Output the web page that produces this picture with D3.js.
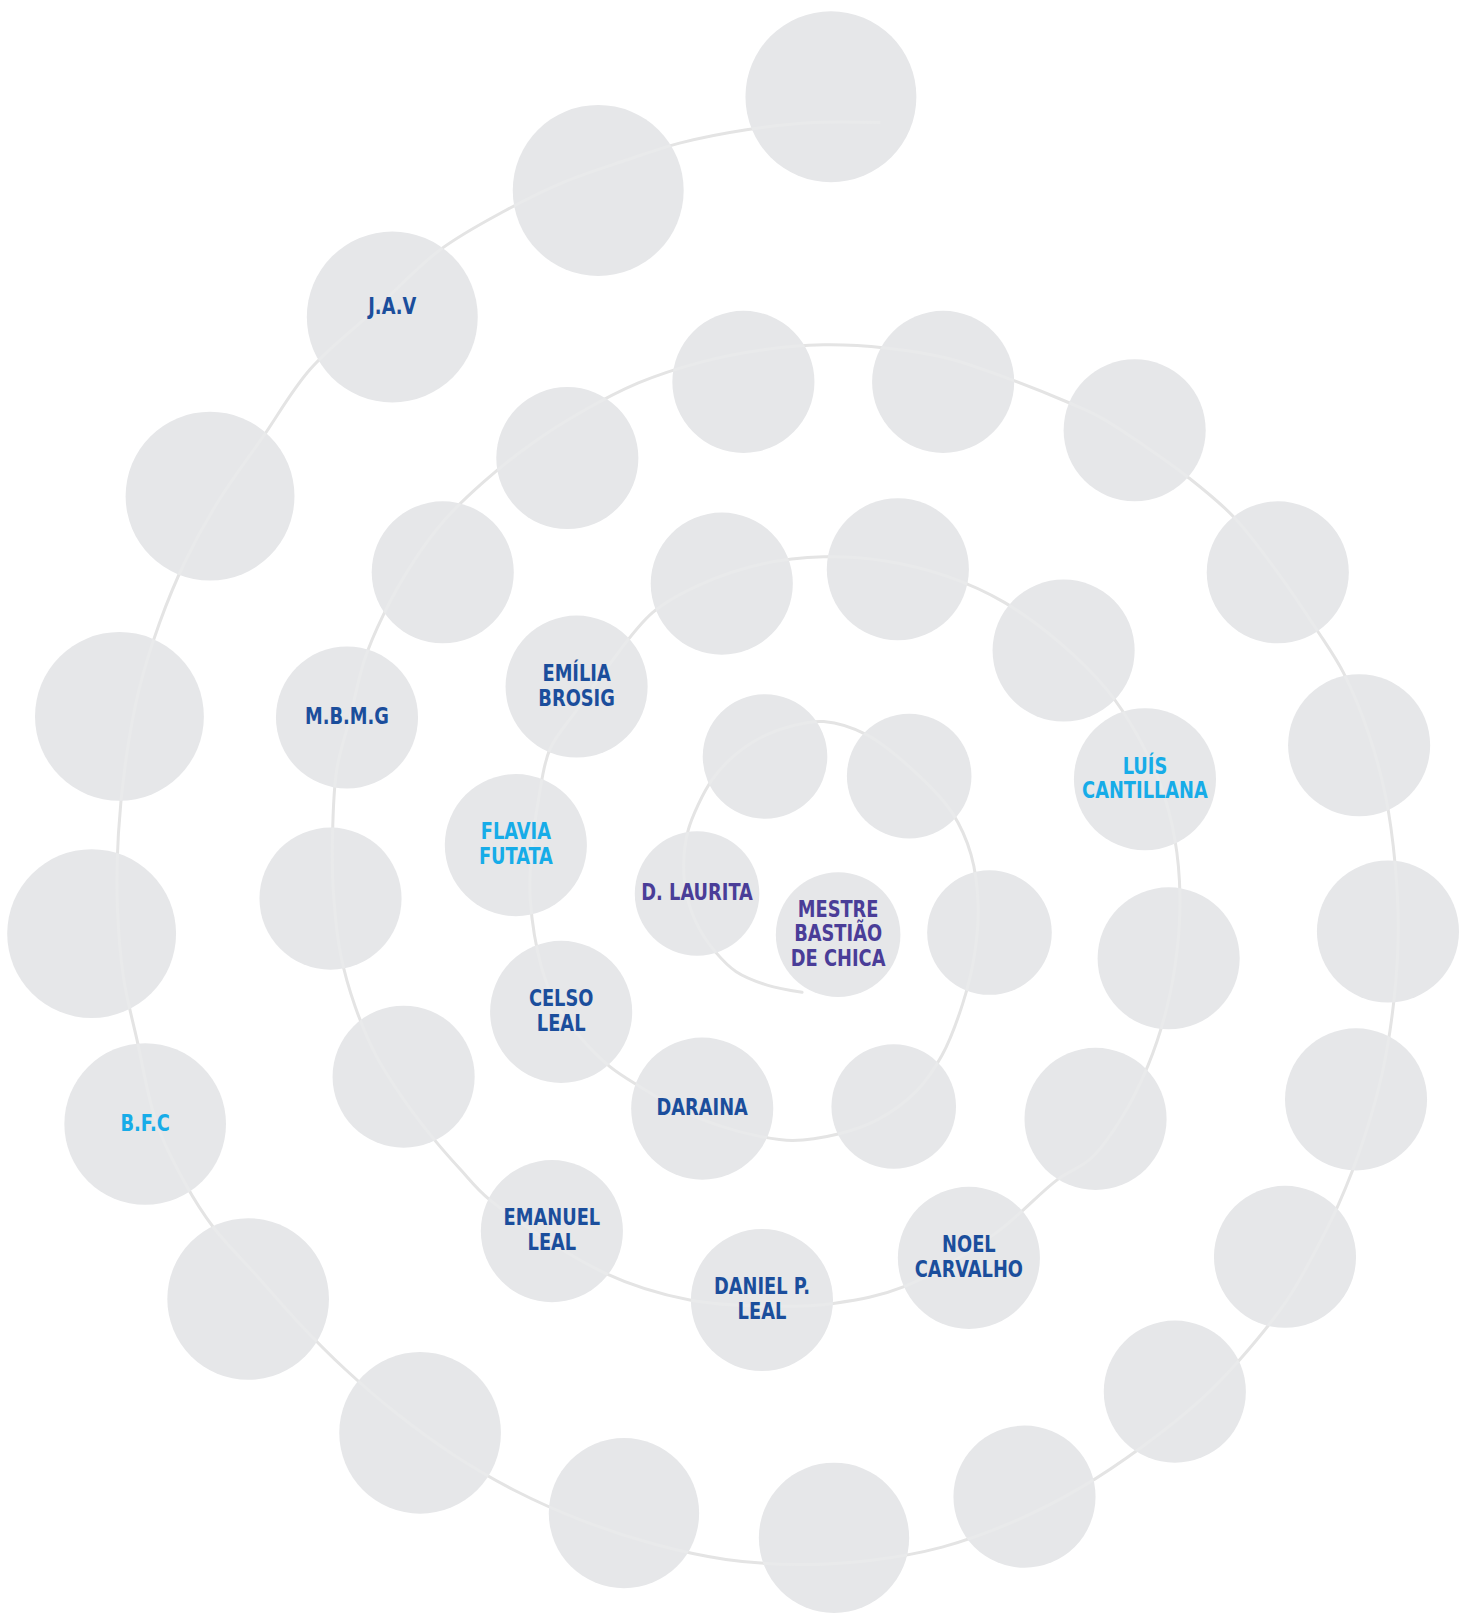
<!DOCTYPE html>
<html>
<head>
<meta charset="utf-8">
<script src="https://cdn.jsdelivr.net/npm/d3@7"></script>
<style>
  body { margin: 0; background: #fff; }
  svg { display: block; }
</style>
</head>
<body>
<script>
// canvas size
var w = 1459,
  h = 1614;

// circle centres and sizes (reference units 1417 x 1568)
var circleX = [807, 581, 381, 204, 116, 89, 141, 241, 408, 606, 810, 995, 1141, 1248, 1317,
  1348, 1320, 1241, 1102, 916, 722, 551, 430, 337, 321, 392, 536, 740, 941, 1064,
  1135, 1112, 1033, 872, 701, 560, 501, 545, 682, 868, 961, 883, 743, 677, 814];
var circleY = [94, 185, 308, 482, 696, 907, 1092, 1262, 1392, 1470, 1494, 1454, 1352, 1221, 1068,
  905, 724, 556, 418, 371, 371, 445, 556, 697, 873, 1046, 1196, 1263, 1222, 1087,
  931, 757, 632, 553, 567, 667, 821, 983, 1077, 1075, 906, 754, 735, 868, 908];
var circleR = [83, 83, 83, 82, 82, 82, 78.5, 78.5, 78.5, 73, 73, 69, 69, 69, 69,
  69, 69, 69, 69, 69, 69, 69, 69, 69, 69, 69, 69, 69, 69, 69,
  69, 69, 69, 69, 69, 69, 69, 69, 69, 60.5, 60.5, 60.5, 60.5, 60.5, 60.5];

// labels (index of circle -> text / colour group)
var labelIndex = [2, 6, 23, 26, 27, 28, 31, 35, 36, 37, 38, 43, 44];
var labelText = ["J.A.V", "B.F.C", "M.B.M.G", "EMANUEL\nLEAL", "DANIEL P.\nLEAL",
  "NOEL\nCARVALHO", "LUÍS\nCANTILLANA", "EMÍLIA\nBROSIG", "FLAVIA\nFUTATA",
  "CELSO\nLEAL", "DARAINA", "D. LAURITA", "MESTRE\nBASTIÃO\nDE CHICA"];
var labelGroup = ["dark", "light", "dark", "dark", "dark", "dark", "light", "dark",
  "light", "dark", "dark", "purple", "purple"];

// spiral guide line (from centre outwards)
var spiralX = [779, 745, 715, 695, 678, 667, 664, 668, 678, 692, 712, 740, 770, 800, 842, 894,
  925, 943, 950, 946, 935, 915, 890, 852, 813, 770, 738, 700, 660, 622, 592, 563, 540, 526,
  515, 516, 523, 534, 560, 590, 634, 680, 740, 800, 860, 920, 975, 1030, 1075, 1105, 1128,
  1141, 1146, 1143, 1133, 1115, 1090, 1060, 1027, 967, 878, 811, 744, 670, 588, 476, 447,
  420, 392, 365, 345, 331, 324, 323, 327, 340, 354, 372, 400, 432, 470, 515, 565, 620, 680,
  740, 800, 860, 920, 980, 1040, 1068, 1110, 1153, 1198, 1240, 1279, 1305, 1330, 1346, 1355,
  1358, 1354, 1343, 1325, 1300, 1275, 1250, 1204, 1166, 1110, 1050, 985, 915, 845, 775, 705,
  635, 565, 500, 440, 385, 335, 290, 250, 207, 180, 152, 133, 120, 114, 115, 122, 135, 155,
  180, 212, 255, 301, 364, 427, 490, 550, 610, 660, 725, 790, 855];
var spiralY = [964, 957, 944, 925, 900, 870, 840, 808, 782, 757, 735, 716, 705, 701, 714, 755,
  790, 830, 880, 930, 975, 1025, 1060, 1088, 1102, 1108, 1104, 1094, 1078, 1056, 1036, 1007, 975, 940,
  874, 830, 777, 728, 690, 648, 595, 568, 548, 541, 545, 560, 585, 625, 670, 715, 765,
  815, 870, 925, 980, 1035, 1085, 1125, 1146, 1198, 1250, 1266, 1269, 1263, 1237, 1166, 1136,
  1105, 1068, 1025, 978, 928, 870, 810, 748, 697, 641, 598, 548, 505, 468, 432, 400, 372, 352,
  340, 335, 338, 348, 368, 392, 405, 432, 463, 502, 555, 612, 654, 715, 775, 840,
  905, 970, 1040, 1105, 1170, 1220, 1263, 1321, 1360, 1405, 1445, 1478, 1503, 1516, 1520, 1515,
  1500, 1477, 1448, 1413, 1373, 1330, 1285, 1240, 1192, 1150, 1091, 1010, 950, 880, 810, 740, 670, 605,
  545, 487, 425, 359, 301, 243, 205, 176, 155, 139, 126, 119, 119];

var colors = { dark: "#1b4e9c", light: "#17ace8", purple: "#4a3d98" };

// scales: reference units -> page pixels
var xScale = d3.scaleLinear().domain([0, 1417]).range([0, w]);
var yScale = d3.scaleLinear().domain([0, 1568]).range([0, h]);
var rScale = d3.scaleLinear().domain([0, 1417]).range([0, w]);

var svg = d3
  .select("body")
  .append("svg")
  .attr("width", w)
  .attr("height", h);

var circles = circleX.map(function (x, i) {
  return { x: x, y: circleY[i], r: circleR[i] };
});

var spiral = spiralX.map(function (x, i) {
  return [x, spiralY[i]];
});
var line = d3
  .line()
  .x(function (d) { return xScale(d[0]); })
  .y(function (d) { return yScale(d[1]); })
  .curve(d3.curveCatmullRom.alpha(0.5));

// clip made of all circles, so the line can show faintly inside them
svg
  .append("defs")
  .append("clipPath")
  .attr("id", "inside")
  .selectAll("circle")
  .data(circles)
  .enter()
  .append("circle")
  .attr("cx", function (d) { return xScale(d.x); })
  .attr("cy", function (d) { return yScale(d.y); })
  .attr("r", function (d) { return rScale(d.r); });

// spiral line (outside the circles)
svg
  .append("path")
  .attr("d", line(spiral))
  .attr("fill", "none")
  .attr("stroke", "#e4e4e4")
  .attr("stroke-width", 3)
  .attr("stroke-linecap", "round");

// circles
svg
  .selectAll("circle.dot")
  .data(circles)
  .enter()
  .append("circle")
  .attr("class", "dot")
  .attr("cx", function (d) { return xScale(d.x); })
  .attr("cy", function (d) { return yScale(d.y); })
  .attr("r", function (d) { return rScale(d.r); })
  .attr("fill", "#e6e7e9");

// faint line through the circles
svg
  .append("path")
  .attr("d", line(spiral))
  .attr("clip-path", "url(#inside)")
  .attr("fill", "none")
  .attr("stroke", "#e9eaeb")
  .attr("stroke-width", 3);

// labels
var lineH = 24.8;
var labels = svg
  .selectAll(".label")
  .data(labelIndex)
  .enter()
  .append("text")
  .attr("class", "label")
  .attr("text-anchor", "middle")
  .attr("font-family", "'Liberation Sans Narrow', 'DejaVu Sans Condensed', sans-serif")
  .attr("font-weight", "bold")
  .attr("font-size", "22.5px")
  .attr("fill", function (d, i) { return colors[labelGroup[i]]; })
  .attr("transform", function (d) {
    var c = circles[d];
    var off = d === 2 ? -10 : 0; // J.A.V sits a bit high
    return "translate(" + xScale(c.x) + "," + (yScale(c.y) + off) + ") scale(0.88,1)";
  });

labels.each(function (d, i) {
  var parts = labelText[i].split("\n");
  var n = parts.length;
  d3.select(this)
    .selectAll("tspan")
    .data(parts)
    .enter()
    .append("tspan")
    .attr("x", 0)
    .attr("y", function (p, j) { return (j - (n - 1) / 2) * lineH; })
    .attr("dy", "0.3em")
    .text(function (p) { return p; });
});
</script>
</body>
</html>
